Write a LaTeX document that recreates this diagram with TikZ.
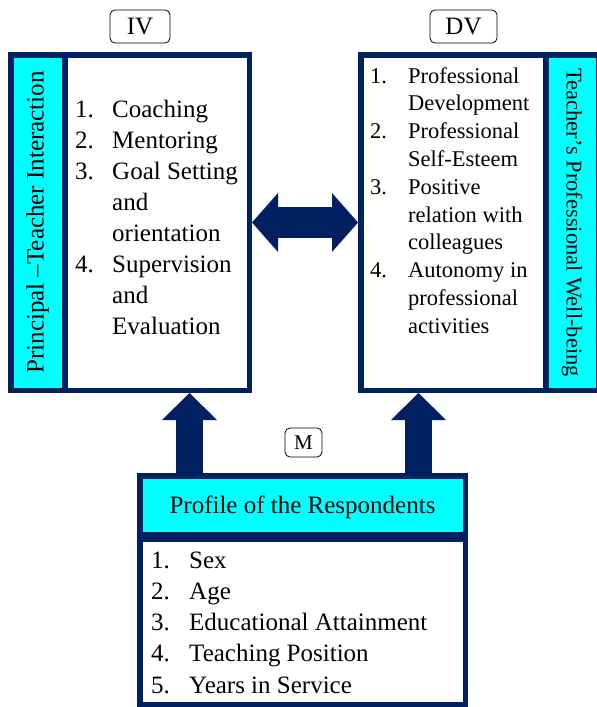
\documentclass[tikz,border=0pt]{standalone}
\usepackage{fontspec}
\setmainfont{Liberation Serif}
\usepackage{xcolor}
\usetikzlibrary{arrows.meta, positioning}
\definecolor{navy}{HTML}{002060}
\definecolor{aqua}{HTML}{00FFFF}
\tikzset{
  varbox/.style={draw=navy, line width=5.5pt, inner sep=0pt, fill=white},
  strip/.style={varbox, fill=aqua},
  tag/.style={draw, rounded corners=5pt, line width=0.8pt, inner sep=0pt},
  items/.style={inner sep=0pt, anchor=base west},
  shaft/.style={draw=navy, line width=#1}
}

\begin{document}
\begin{tikzpicture}[x=1pt, y=-1pt, font=\fontsize{25}{31}\selectfont]
\useasboundingbox (0,0) rectangle (597,707);
% independent variable
\node[varbox, minimum width=184.5pt, minimum height=335.5pt] (ivbox) at (157,222.5) {};
\node[strip, minimum width=53.5pt, minimum height=335.5pt] (ivstrip) at (37.5,222.5) {};
\node[rotate=90] (ivname) at (ivstrip.center) {Principal –Teacher Interaction};
\node[items] (ivlist) at (75,117) {\begin{tabular}[t]{@{}p{37pt}@{}l@{}}
1. & Coaching\\
2. & Mentoring\\
3. & Goal Setting\\
   & and\\
   & orientation\\
4. & Supervision\\
   & and\\
   & Evaluation
\end{tabular}};
\node[tag, minimum width=60pt, minimum height=33pt] (iv) at (140,26.5) {IV};
% dependent variable
\node[varbox, minimum width=185.5pt, minimum height=335.5pt] (dvbox) at (453.5,222.5) {};
\node[strip, minimum width=52.5pt, minimum height=335.5pt] (dvstrip) at (572,222.5) {};
\node[rotate=-90, font=\fontsize{22.5}{27.8}\selectfont] (dvname) at (dvstrip.center) {Teacher’s Professional Well-being};
\node[items, font=\fontsize{22.5}{27.8}\selectfont] (dvlist) at (370,83) {\begin{tabular}[t]{@{}p{38pt}@{}l@{}}
1. & Professional\\
   & Development\\
2. & Professional\\
   & Self-Esteem\\
3. & Positive\\
   & relation with\\
   & colleagues\\
4. & Autonomy in\\
   & professional\\
   & activities
\end{tabular}};
\node[tag, minimum width=67pt, minimum height=33pt] (dv) at (463.5,26.5) {DV};
% moderator
\node[strip, minimum width=325.5pt, minimum height=58.5pt, text depth=0pt] (profhead) at (302.5,505) {Profile of the Respondents};
\node[varbox, minimum width=325.5pt, minimum height=165.5pt] (profbox) at (302.5,622) {};
\node[items, font=\fontsize{25}{31.25}\selectfont] (proflist) at (151,568) {\begin{tabular}[t]{@{}p{38pt}@{}l@{}}
1. & Sex\\
2. & Age\\
3. & Educational Attainment\\
4. & Teaching Position\\
5. & Years in Service
\end{tabular}};
\node[tag, minimum width=37pt, minimum height=29pt, font=\fontsize{21}{25}\selectfont] (m) at (303.5,442.5) {M};
% arrows
\coordinate (ivfoot) at (189.5,0);
\coordinate (dvfoot) at (418.5,0);
\draw[shaft=31pt, {Triangle[length=26pt,width=59pt,line width=0pt]}-{Triangle[length=26pt,width=59pt,line width=0pt]}] (ivbox.east) -- (dvbox.west);
\draw[shaft=27pt, -{Triangle[length=27pt,width=55pt,line width=0pt]}] (profhead.north -| ivfoot) -- (ivbox.south -| ivfoot);
\draw[shaft=27pt, -{Triangle[length=27pt,width=55pt,line width=0pt]}] (profhead.north -| dvfoot) -- (dvbox.south -| dvfoot);
\end{tikzpicture}
\end{document}
